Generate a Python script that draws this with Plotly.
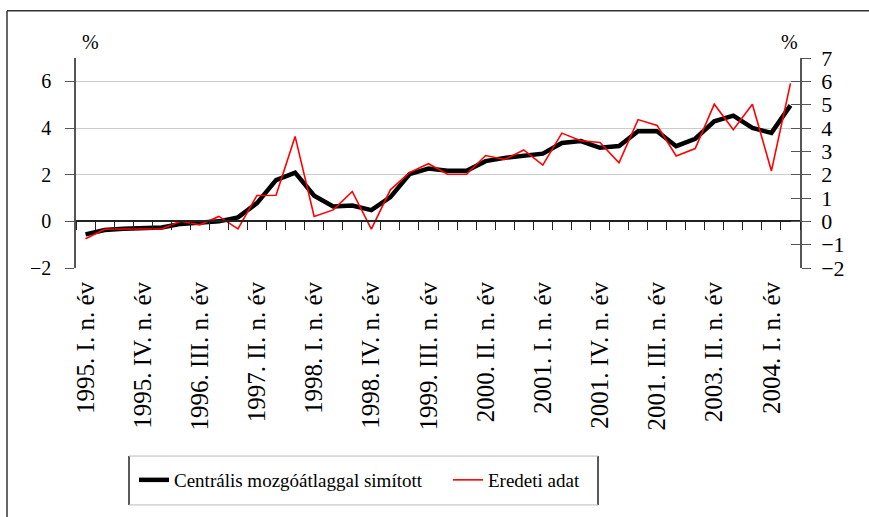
import plotly.graph_objects as go

# ---- data ----
years = list(range(1995, 2005))
roman = ["I", "II", "III", "IV"]
categories = [f"{y}. {q}. n. év" for y in years for q in roman][:38]   # 1995 I .. 2004 II

tick_labels = [
    "1995. I. n. év", "1995. IV. n. év", "1996. III. n. év", "1997. II. n. év",
    "1998. I. n. év", "1998. IV. n. év", "1999. III. n. év", "2000. II. n. év",
    "2001. I. n. év", "2001. IV. n. év", "2001. III. n. év", "2003. II. n. év",
    "2004. I. n. év",
]

smoothed = [-0.56, -0.37, -0.32, -0.30, -0.26, -0.11, -0.04, 0.00, 0.17, 0.78,
            1.77, 2.09, 1.10, 0.64, 0.68, 0.48, 1.04, 2.02, 2.26, 2.17,
            2.17, 2.58, 2.72, 2.83, 2.90, 3.36, 3.44, 3.15, 3.23, 3.86,
            3.86, 3.22, 3.54, 4.29, 4.53, 4.00, 3.79, 4.97]

original = [-0.75, -0.34, -0.33, -0.33, -0.33, 0.00, -0.15, 0.21, -0.32, 1.11,
            1.12, 3.64, 0.21, 0.49, 1.28, -0.33, 1.35, 2.09, 2.47, 2.02,
            2.02, 2.82, 2.65, 3.06, 2.41, 3.78, 3.45, 3.38, 2.51, 4.36,
            4.11, 2.80, 3.12, 5.02, 3.93, 5.02, 2.16, 5.91]

name_smoothed = "Centrális mozgóátlaggal simított"
name_original = "Eredeti adat"

FONT = "Liberation Serif"
W, H = 869, 517
L, R, T, B = 76, 69, 58, 248.5
PW, PH = W - L - R, H - T - B


def px(x):
    return (x - L) / PW


def py(y):
    return (H - B - y) / PH


fig = go.Figure()
fig.add_trace(go.Scatter(x=categories, y=smoothed, name=name_smoothed, mode="lines",
                         line=dict(color="#000000", width=4.5), xaxis="x", yaxis="y"))
fig.add_trace(go.Scatter(x=categories, y=original, name=name_original, mode="lines",
                         line=dict(color="#ff0000", width=1.6), xaxis="x2", yaxis="y"))
# helper traces so the secondary axes render
fig.add_trace(go.Scatter(x=[categories[0]], y=[None], xaxis="x", yaxis="y2",
                         showlegend=False, hoverinfo="skip"))
fig.add_trace(go.Scatter(x=[categories[0]], y=[None], xaxis="x", yaxis="y3",
                         showlegend=False, hoverinfo="skip"))

axis_col = "#555555"
fig.update_layout(
    template="none",
    width=W, height=H,
    margin=dict(l=L, r=R, t=T, b=B, autoexpand=False),
    paper_bgcolor="white", plot_bgcolor="white",
    font=dict(family=FONT, color="black"),
    showlegend=True,
    legend=dict(orientation="h", x=px(134), xanchor="left", y=py(481), yanchor="middle",
                font=dict(size=19, family=FONT, color="black"), bgcolor="rgba(0,0,0,0)",
                borderwidth=0, itemwidth=30, tracegroupgap=0,
                entrywidth=269, entrywidthmode="pixels"),
    xaxis=dict(type="category", range=[-0.5, 37.5], tickmode="array",
               tickvals=categories[::3], ticktext=tick_labels, tickangle=-90,
               ticks="", showline=False, showgrid=False, zeroline=False, automargin=False,
               tickfont=dict(size=25, family=FONT, color="black"), ticklabelstandoff=8),
    xaxis2=dict(type="category", range=[-0.5, 37.5], overlaying="x", anchor="free",
                position=2 / 9, tickmode="linear", dtick=1, tickson="boundaries",
                ticks="outside", ticklen=8, tickcolor="#222", tickwidth=1.2,
                showline=True, linecolor="#222", linewidth=1.5, automargin=False,
                showticklabels=False, showgrid=False, zeroline=False),
    yaxis=dict(range=[-2, 7], tickmode="array", tickvals=[-2, 0, 2, 4, 6],
               showgrid=True, gridcolor="#cccccc", gridwidth=1.2, zeroline=False,
               showline=True, linecolor=axis_col, linewidth=1.5, automargin=False,
               ticks="outside", ticklen=9, tickcolor=axis_col, tickwidth=1.2,
               tickfont=dict(size=20, family=FONT, color="black"), ticklabelstandoff=10),
    yaxis2=dict(range=[-2, 7], overlaying="y", side="right", anchor="x",
                tickmode="linear", tick0=-2, dtick=1, showgrid=False, zeroline=False,
                showline=True, linecolor=axis_col, linewidth=1.5, automargin=False,
                ticks="outside", ticklen=9, tickcolor=axis_col, tickwidth=1.2,
                tickfont=dict(size=22, family=FONT, color="black"), ticklabelstandoff=6),
    yaxis3=dict(range=[-2, 7], overlaying="y", side="right", anchor="free", position=1,
                tickmode="linear", tick0=-2, dtick=1, showgrid=False, zeroline=False,
                showline=False, ticks="inside", ticklen=9, tickcolor=axis_col, tickwidth=1.2,
                showticklabels=False, automargin=False),
)

shapes = [
    # outer frame (left and top edges)
    dict(type="line", xref="paper", yref="paper", x0=px(7), x1=px(7),
         y0=py(10.7), y1=py(540), line=dict(color="#333", width=1.5)),
    dict(type="line", xref="paper", yref="paper", x0=px(7), x1=px(900),
         y0=py(10.7), y1=py(10.7), line=dict(color="#333", width=1.5)),
    # legend box
    dict(type="line", xref="paper", yref="paper", x0=px(129), x1=px(129),
         y0=py(457), y1=py(506), line=dict(color="#222", width=1.5)),
    dict(type="line", xref="paper", yref="paper", x0=px(598), x1=px(598),
         y0=py(457), y1=py(506), line=dict(color="#222", width=1.5)),
    dict(type="line", xref="paper", yref="paper", x0=px(129), x1=px(598),
         y0=py(457), y1=py(457), line=dict(color="#bbbbbb", width=1)),
    dict(type="line", xref="paper", yref="paper", x0=px(129), x1=px(598),
         y0=py(506), y1=py(506), line=dict(color="#bbbbbb", width=1)),
]
fig.update_layout(shapes=shapes)

fig.add_annotation(text="%", xref="paper", yref="paper", x=px(90), y=py(42),
                   xanchor="center", yanchor="middle", showarrow=False,
                   font=dict(size=20, family=FONT, color="black"))
fig.add_annotation(text="%", xref="paper", yref="paper", x=px(789), y=py(42),
                   xanchor="center", yanchor="middle", showarrow=False,
                   font=dict(size=20, family=FONT, color="black"))

fig.write_html("out.html", config={"displayModeBar": False},
               post_script="document.body.style.margin='0';document.body.style.padding='0';")
